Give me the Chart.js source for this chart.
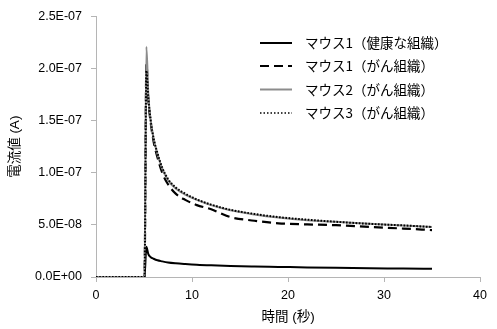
<!DOCTYPE html>
<html>
<head>
<meta charset="utf-8">
<script src="https://cdn.jsdelivr.net/npm/chart.js@4"></script>
<style>
  html, body { margin: 0; padding: 0; background: #fff; }
  #wrap { width: 497px; height: 329px; }
</style>
</head>
<body>
<div id="wrap"><canvas id="c" width="497" height="329"></canvas></div>
<script>
// ── DATA ──
const times = [0, 5.05, 5.25, 5.45, 5.7, 6.0, 6.4, 6.9, 7.5, 8.3, 9.3, 10.5, 12, 14, 16.5, 19, 22, 25, 28.5, 32, 35];
const mouse1Healthy = [0, 0, 2.9e-8, 2.2e-8, 1.9e-8, 1.75e-8, 1.6e-8, 1.5e-8, 1.4e-8, 1.32e-8, 1.25e-8, 1.18e-8, 1.12e-8, 1.06e-8, 1.01e-8, 0.97e-8, 0.92e-8, 0.88e-8, 0.84e-8, 0.81e-8, 0.78e-8];
const mouse1Cancer  = [0, 0, 2.05e-7, 1.70e-7, 1.48e-7, 1.30e-7, 1.15e-7, 1.00e-7, 8.9e-8, 8.0e-8, 7.4e-8, 6.9e-8, 6.5e-8, 5.75e-8, 5.4e-8, 5.15e-8, 5.05e-8, 4.97e-8, 4.8e-8, 4.65e-8, 4.5e-8];
const mouse2Cancer  = [0, 0, 2.21e-7, 1.75e-7, 1.50e-7, 1.33e-7, 1.18e-7, 1.04e-7, 9.3e-8, 8.5e-8, 7.9e-8, 7.4e-8, 6.9e-8, 6.4e-8, 6.0e-8, 5.7e-8, 5.45e-8, 5.3e-8, 5.1e-8, 4.95e-8, 4.8e-8];
const mouse3Cancer  = [0, 0, 1.98e-7, 1.72e-7, 1.50e-7, 1.33e-7, 1.19e-7, 1.05e-7, 9.4e-8, 8.6e-8, 8.0e-8, 7.45e-8, 6.95e-8, 6.45e-8, 6.05e-8, 5.75e-8, 5.5e-8, 5.3e-8, 5.1e-8, 4.95e-8, 4.8e-8];
const labels = ['マウス1（健康な組織）', 'マウス1（がん組織）', 'マウス2（がん組織）', 'マウス3（がん組織）'];

const pts = arr => arr.map((v, i) => ({ x: times[i], y: v }));

// 0.0E+00 style tick labels
function sci(v) {
  if (Math.abs(v) < 1e-15) return '0.0E+00';
  const [m, e] = v.toExponential(1).split('e');
  const n = parseInt(e, 10);
  return m + 'E' + (n < 0 ? '-' : '+') + String(Math.abs(n)).padStart(2, '0');
}

const AXIS = '#b5b5b5';
const FONT = "'Liberation Sans', Arial, sans-serif";
const JFONT = "'Liberation Sans', 'Noto Sans CJK JP', sans-serif";

const styles = [
  { color: '#000', width: 2, dash: [] },
  { color: '#000', width: 2.2, dash: [9, 5] },
  { color: '#8c8c8c', width: 2, dash: [] },
  { color: '#000', width: 2, dash: [1.6, 1.6] }
];

// ── LEGEND (drawn inside the plot, top right) ──
const legendPlugin = {
  id: 'innerLegend',
  afterDraw(chart) {
    const ctx = chart.ctx;
    const rows = [43, 66, 89.5, 113];
    ctx.save();
    ctx.font = "13.5px 'Noto Sans CJK JP', sans-serif";
    ctx.textBaseline = 'middle';
    ctx.fillStyle = '#000';
    labels.forEach((t, i) => {
      const s = styles[i];
      ctx.beginPath();
      ctx.strokeStyle = s.color;
      ctx.lineWidth = i === 3 ? 1.5 : s.width;
      ctx.setLineDash(i === 3 ? [1.5, 2] : s.dash);
      ctx.moveTo(260, rows[i]);
      ctx.lineTo(292, rows[i]);
      ctx.stroke();
      ctx.setLineDash([]);
      ctx.fillText(t, 305, rows[i]);
    });
    ctx.restore();
  }
};

const series = [mouse1Healthy, mouse1Cancer, mouse2Cancer, mouse3Cancer];

new Chart(document.getElementById('c'), {
  type: 'line',
  data: {
    datasets: series.map((d, i) => ({
      label: labels[i], data: pts(d),
      borderColor: styles[i].color, borderWidth: styles[i].width, borderDash: styles[i].dash,
      pointRadius: 0, cubicInterpolationMode: 'monotone', fill: false, order: 4 - i
    }))
  },
  options: {
    responsive: false, animation: false, devicePixelRatio: 1,
    layout: { padding: { left: 0, right: 17, top: 12, bottom: 0 } },
    plugins: { legend: { display: false }, tooltip: { enabled: false } },
    scales: {
      x: {
        type: 'linear', min: 0, max: 40,
        ticks: { stepSize: 10, color: '#000', padding: 6, font: { family: FONT, size: 12.5 } },
        grid: { drawOnChartArea: false, drawTicks: true, tickLength: 5, color: AXIS },
        border: { color: AXIS, width: 1 },
        title: { display: true, text: '時間 (秒)', color: '#000', font: { family: JFONT, size: 13.5 }, padding: { top: 0, bottom: 4 } },
        afterFit: s => { s.height = 52; }
      },
      y: {
        min: 0, max: 2.5e-7,
        ticks: { stepSize: 5e-8, color: '#000', padding: 9, callback: v => sci(v), font: { family: FONT, size: 12.5 } },
        grid: { drawOnChartArea: false, drawTicks: true, tickLength: 5, color: AXIS },
        border: { color: AXIS, width: 1 },
        title: { display: true, text: '電流値 (A)', color: '#000', font: { family: JFONT, size: 13.5 }, padding: { top: 7, bottom: 0 } },
        afterFit: s => { s.width = 96; }
      }
    }
  },
  plugins: [legendPlugin]
});
</script>
</body>
</html>
